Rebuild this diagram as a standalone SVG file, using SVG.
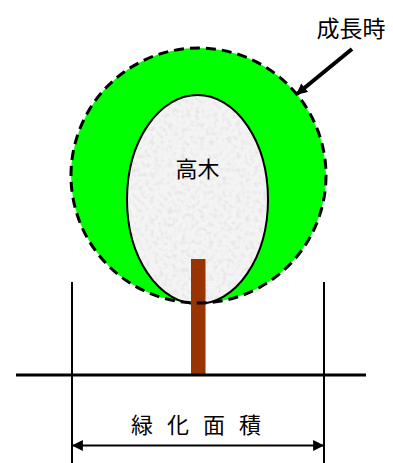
<svg xmlns="http://www.w3.org/2000/svg" width="393" height="463" viewBox="0 0 393 463">
  <style>
    .lbl { font-family: "Noto Sans CJK JP", "Noto Sans CJK SC", sans-serif; fill: #000; }
    .line { stroke: #000; fill: none; }
  </style>
  <defs>
    <marker id="ah2" viewBox="0 0 10 10" refX="9" refY="5" markerWidth="16" markerHeight="11" markerUnits="userSpaceOnUse" orient="auto-start-reverse">
      <path d="M0,0 L10,5 L0,10 Z" fill="#000"/>
    </marker>
    <!-- mottled light grey fill for the crown -->
    <filter id="granite" x="0" y="0" width="100%" height="100%">
      <feTurbulence type="fractalNoise" baseFrequency="0.22" numOctaves="2" seed="3" result="n"/>
      <feColorMatrix in="n" type="matrix" values="0 0 0 0 0.80  0 0 0 0 0.80  0 0 0 0 0.80  0 0 0 -3.2 1.75" result="g"/>
      <feFlood flood-color="#f4f4f4" result="bg"/>
      <feComposite in="g" in2="bg" operator="over"/>
    </filter>
    <clipPath id="crownClip">
      <ellipse cx="197.5" cy="199.5" rx="70.5" ry="104.5"/>
    </clipPath>
  </defs>

  <!-- mature crown -->
  <g id="crown-grown">
    <circle cx="198.5" cy="175.5" r="127.5" fill="#00ff00"/>
  </g>

  <!-- young tree crown -->
  <g id="crown-tall">
    <rect x="126" y="94" width="144" height="212" fill="#f0f0f0" filter="url(#granite)" clip-path="url(#crownClip)"/>
    <ellipse cx="197.5" cy="199.5" rx="70.5" ry="104.5" class="line" stroke-width="2"/>
    <text x="197.5" y="177" class="lbl" font-size="22" text-anchor="middle">高木</text>
  </g>

  <!-- trunk -->
  <g id="trunk">
    <rect x="191" y="259" width="14.5" height="116" fill="#993300"/>
  </g>

  <!-- outline of the grown crown -->
  <g id="crown-outline">
    <circle cx="198.5" cy="175.5" r="127.5" class="line" stroke-width="3" stroke-dasharray="10 6"/>
  </g>

  <g id="label-grown">
    <text x="351" y="37" class="lbl" font-size="23" text-anchor="middle">成長時</text>
  </g>

  <g id="label-area">
    <text x="203" y="433" class="lbl" font-size="22" text-anchor="middle" letter-spacing="14">緑化面積</text>
  </g>

  <!-- connectors and dimension lines -->
  <g id="connectors">
    <line x1="352" y1="49" x2="297" y2="94" class="line" stroke-width="4" marker-end="url(#ah2)"/>
    <line x1="16" y1="375" x2="366" y2="375" class="line" stroke-width="3"/>
    <line x1="72" y1="282" x2="72" y2="463" class="line" stroke-width="2"/>
    <line x1="324" y1="282" x2="324" y2="463" class="line" stroke-width="2"/>
    <line x1="73" y1="445.5" x2="323" y2="445.5" class="line" stroke-width="2" marker-start="url(#ah2)" marker-end="url(#ah2)"/>
  </g>
</svg>
